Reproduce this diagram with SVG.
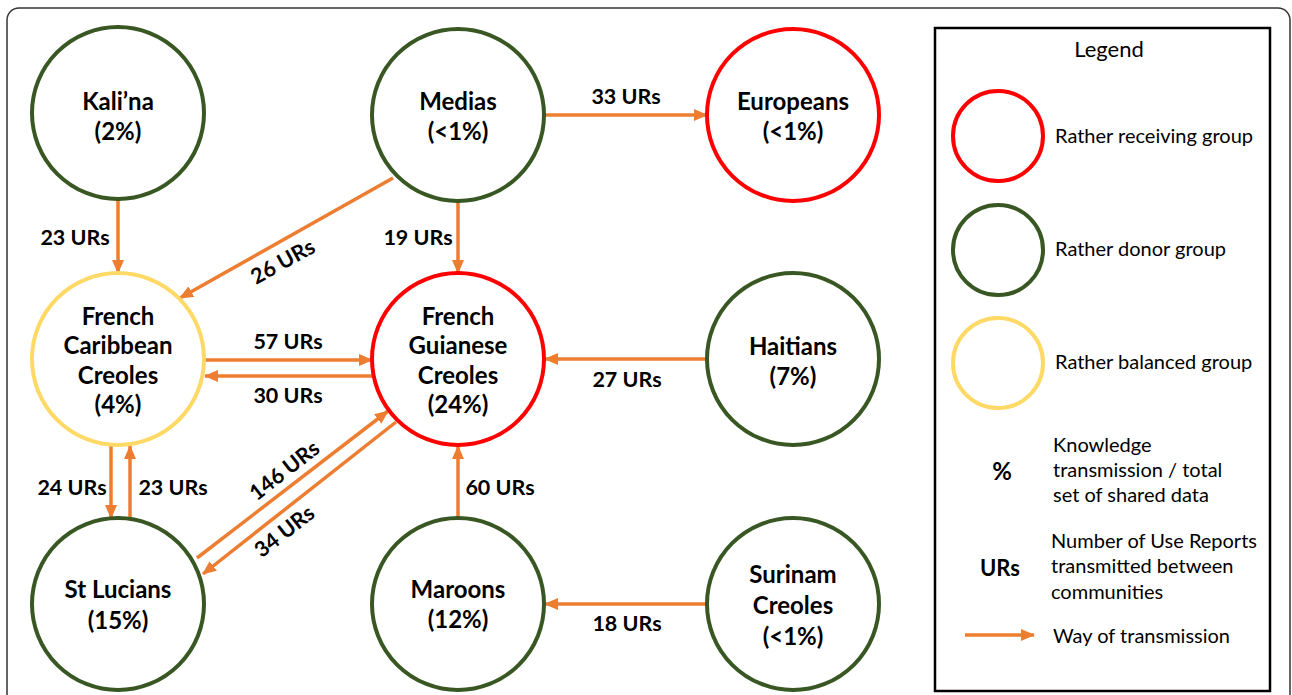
<svg xmlns="http://www.w3.org/2000/svg" width="1292" height="695" viewBox="0 0 1292 695">
<style>
.g{fill:#fff;stroke:#385723;stroke-width:4}
.r{fill:#fff;stroke:#FF0000;stroke-width:4}
.y{fill:#fff;stroke:#FFD966;stroke-width:4}
.n{font-family:Lato,"Liberation Sans",sans-serif;font-weight:bold;font-size:24px;fill:#000;text-anchor:middle}
.e{font-family:Lato,"Liberation Sans",sans-serif;font-weight:bold;font-size:21.5px;fill:#000;text-anchor:middle}
.l{font-family:Lato,"Liberation Sans",sans-serif;font-size:20px;fill:#000}
.a{stroke:#ED7D31;stroke-width:3.5;fill:none;marker-end:url(#ah)}
</style>
<defs>
<marker id="ah" markerUnits="userSpaceOnUse" markerWidth="14" markerHeight="12" refX="13" refY="6" orient="auto">
<path d="M0,0 L14,6 L0,12 z" fill="#ED7D31"/>
</marker>
</defs>
<rect x="0" y="0" width="1292" height="695" fill="#fff"/>
<rect x="7" y="8" width="1283" height="700" rx="12" fill="none" stroke="#333" stroke-width="1.5"/>

<g id="connectors">
<line class="a" x1="118" y1="200" x2="118" y2="273"/>
<line class="a" x1="393" y1="178" x2="180" y2="298"/>
<line class="a" x1="458" y1="200" x2="458" y2="273"/>
<line class="a" x1="545" y1="115" x2="707" y2="115"/>
<line class="a" x1="205" y1="360" x2="372" y2="360"/>
<line class="a" x1="372" y1="376" x2="205" y2="376"/>
<line class="a" x1="707" y1="359" x2="545" y2="359"/>
<line class="a" x1="111" y1="445" x2="111" y2="518"/>
<line class="a" x1="130" y1="518" x2="130" y2="446"/>
<line class="a" x1="197" y1="558" x2="388" y2="411"/>
<line class="a" x1="396" y1="422" x2="203" y2="574"/>
<line class="a" x1="458" y1="518" x2="458" y2="446"/>
<line class="a" x1="707" y1="604" x2="545" y2="604"/>
<text class="e" x="75" y="245">23 URs</text>
<text class="e" x="283" y="269" transform="rotate(-29 283 262)">26 URs</text>
<text class="e" x="418" y="245">19 URs</text>
<text class="e" x="626" y="104">33 URs</text>
<text class="e" x="288" y="349">57 URs</text>
<text class="e" x="288" y="403">30 URs</text>
<text class="e" x="627" y="387">27 URs</text>
<text class="e" x="72" y="495">24 URs</text>
<text class="e" x="173" y="495">23 URs</text>
<text class="e" x="284" y="478" transform="rotate(-38 284 470)">146 URs</text>
<text class="e" x="284" y="539" transform="rotate(-38 284 531)">34 URs</text>
<text class="e" x="500" y="495">60 URs</text>
<text class="e" x="627" y="631">18 URs</text>
</g>

<g id="kalina"><circle class="g" cx="118" cy="113" r="86"/><text class="n" x="118" y="110">Kali’na</text><text class="n" x="118" y="140">(2%)</text></g>
<g id="medias"><circle class="g" cx="458" cy="115" r="86"/><text class="n" x="458" y="110">Medias</text><text class="n" x="458" y="140">(&lt;1%)</text></g>
<g id="europeans"><circle class="r" cx="793" cy="115" r="86"/><text class="n" x="793" y="110">Europeans</text><text class="n" x="793" y="140">(&lt;1%)</text></g>
<g id="fcc"><circle class="y" cx="118" cy="359" r="86"/><text class="n" x="118" y="325">French</text><text class="n" x="118" y="354">Caribbean</text><text class="n" x="118" y="384">Creoles</text><text class="n" x="118" y="413">(4%)</text></g>
<g id="fgc"><circle class="r" cx="458" cy="359" r="86"/><text class="n" x="458" y="325">French</text><text class="n" x="458" y="354">Guianese</text><text class="n" x="458" y="384">Creoles</text><text class="n" x="458" y="413">(24%)</text></g>
<g id="haitians"><circle class="g" cx="793" cy="359" r="86"/><text class="n" x="793" y="355">Haitians</text><text class="n" x="793" y="385">(7%)</text></g>
<g id="stlucians"><circle class="g" cx="118" cy="604" r="86"/><text class="n" x="118" y="598">St Lucians</text><text class="n" x="118" y="629">(15%)</text></g>
<g id="maroons"><circle class="g" cx="458" cy="604" r="86"/><text class="n" x="458" y="598">Maroons</text><text class="n" x="458" y="628">(12%)</text></g>
<g id="surinam"><circle class="g" cx="793" cy="604" r="86"/><text class="n" x="793" y="583">Surinam</text><text class="n" x="793" y="614">Creoles</text><text class="n" x="793" y="645">(&lt;1%)</text></g>

<g id="legend">
<rect x="935" y="28" width="335" height="663" fill="#fff" stroke="#000" stroke-width="2.5"/>
<text class="l" x="1109" y="57" text-anchor="middle" style="font-size:22px">Legend</text>
<circle cx="998" cy="136" r="45" fill="none" stroke="#FF0000" stroke-width="4"/>
<text class="l" x="1055" y="143">Rather receiving group</text>
<circle cx="998" cy="250" r="45" fill="none" stroke="#385723" stroke-width="4"/>
<text class="l" x="1055" y="256">Rather donor group</text>
<circle cx="998" cy="363" r="45" fill="none" stroke="#FFD966" stroke-width="4"/>
<text class="l" x="1055" y="369">Rather balanced group</text>
<text class="e" x="1002" y="480" style="font-size:24px">%</text>
<text class="l" x="1053" y="452">Knowledge</text>
<text class="l" x="1053" y="477">transmission / total</text>
<text class="l" x="1053" y="502">set of shared data</text>
<text class="e" x="1000" y="576" style="font-size:22px">URs</text>
<text class="l" x="1051" y="548">Number of Use Reports</text>
<text class="l" x="1051" y="573">transmitted between</text>
<text class="l" x="1051" y="599">communities</text>
<line class="a" x1="965" y1="635" x2="1034" y2="635"/>
<text class="l" x="1053" y="643">Way of transmission</text>
</g>
</svg>
